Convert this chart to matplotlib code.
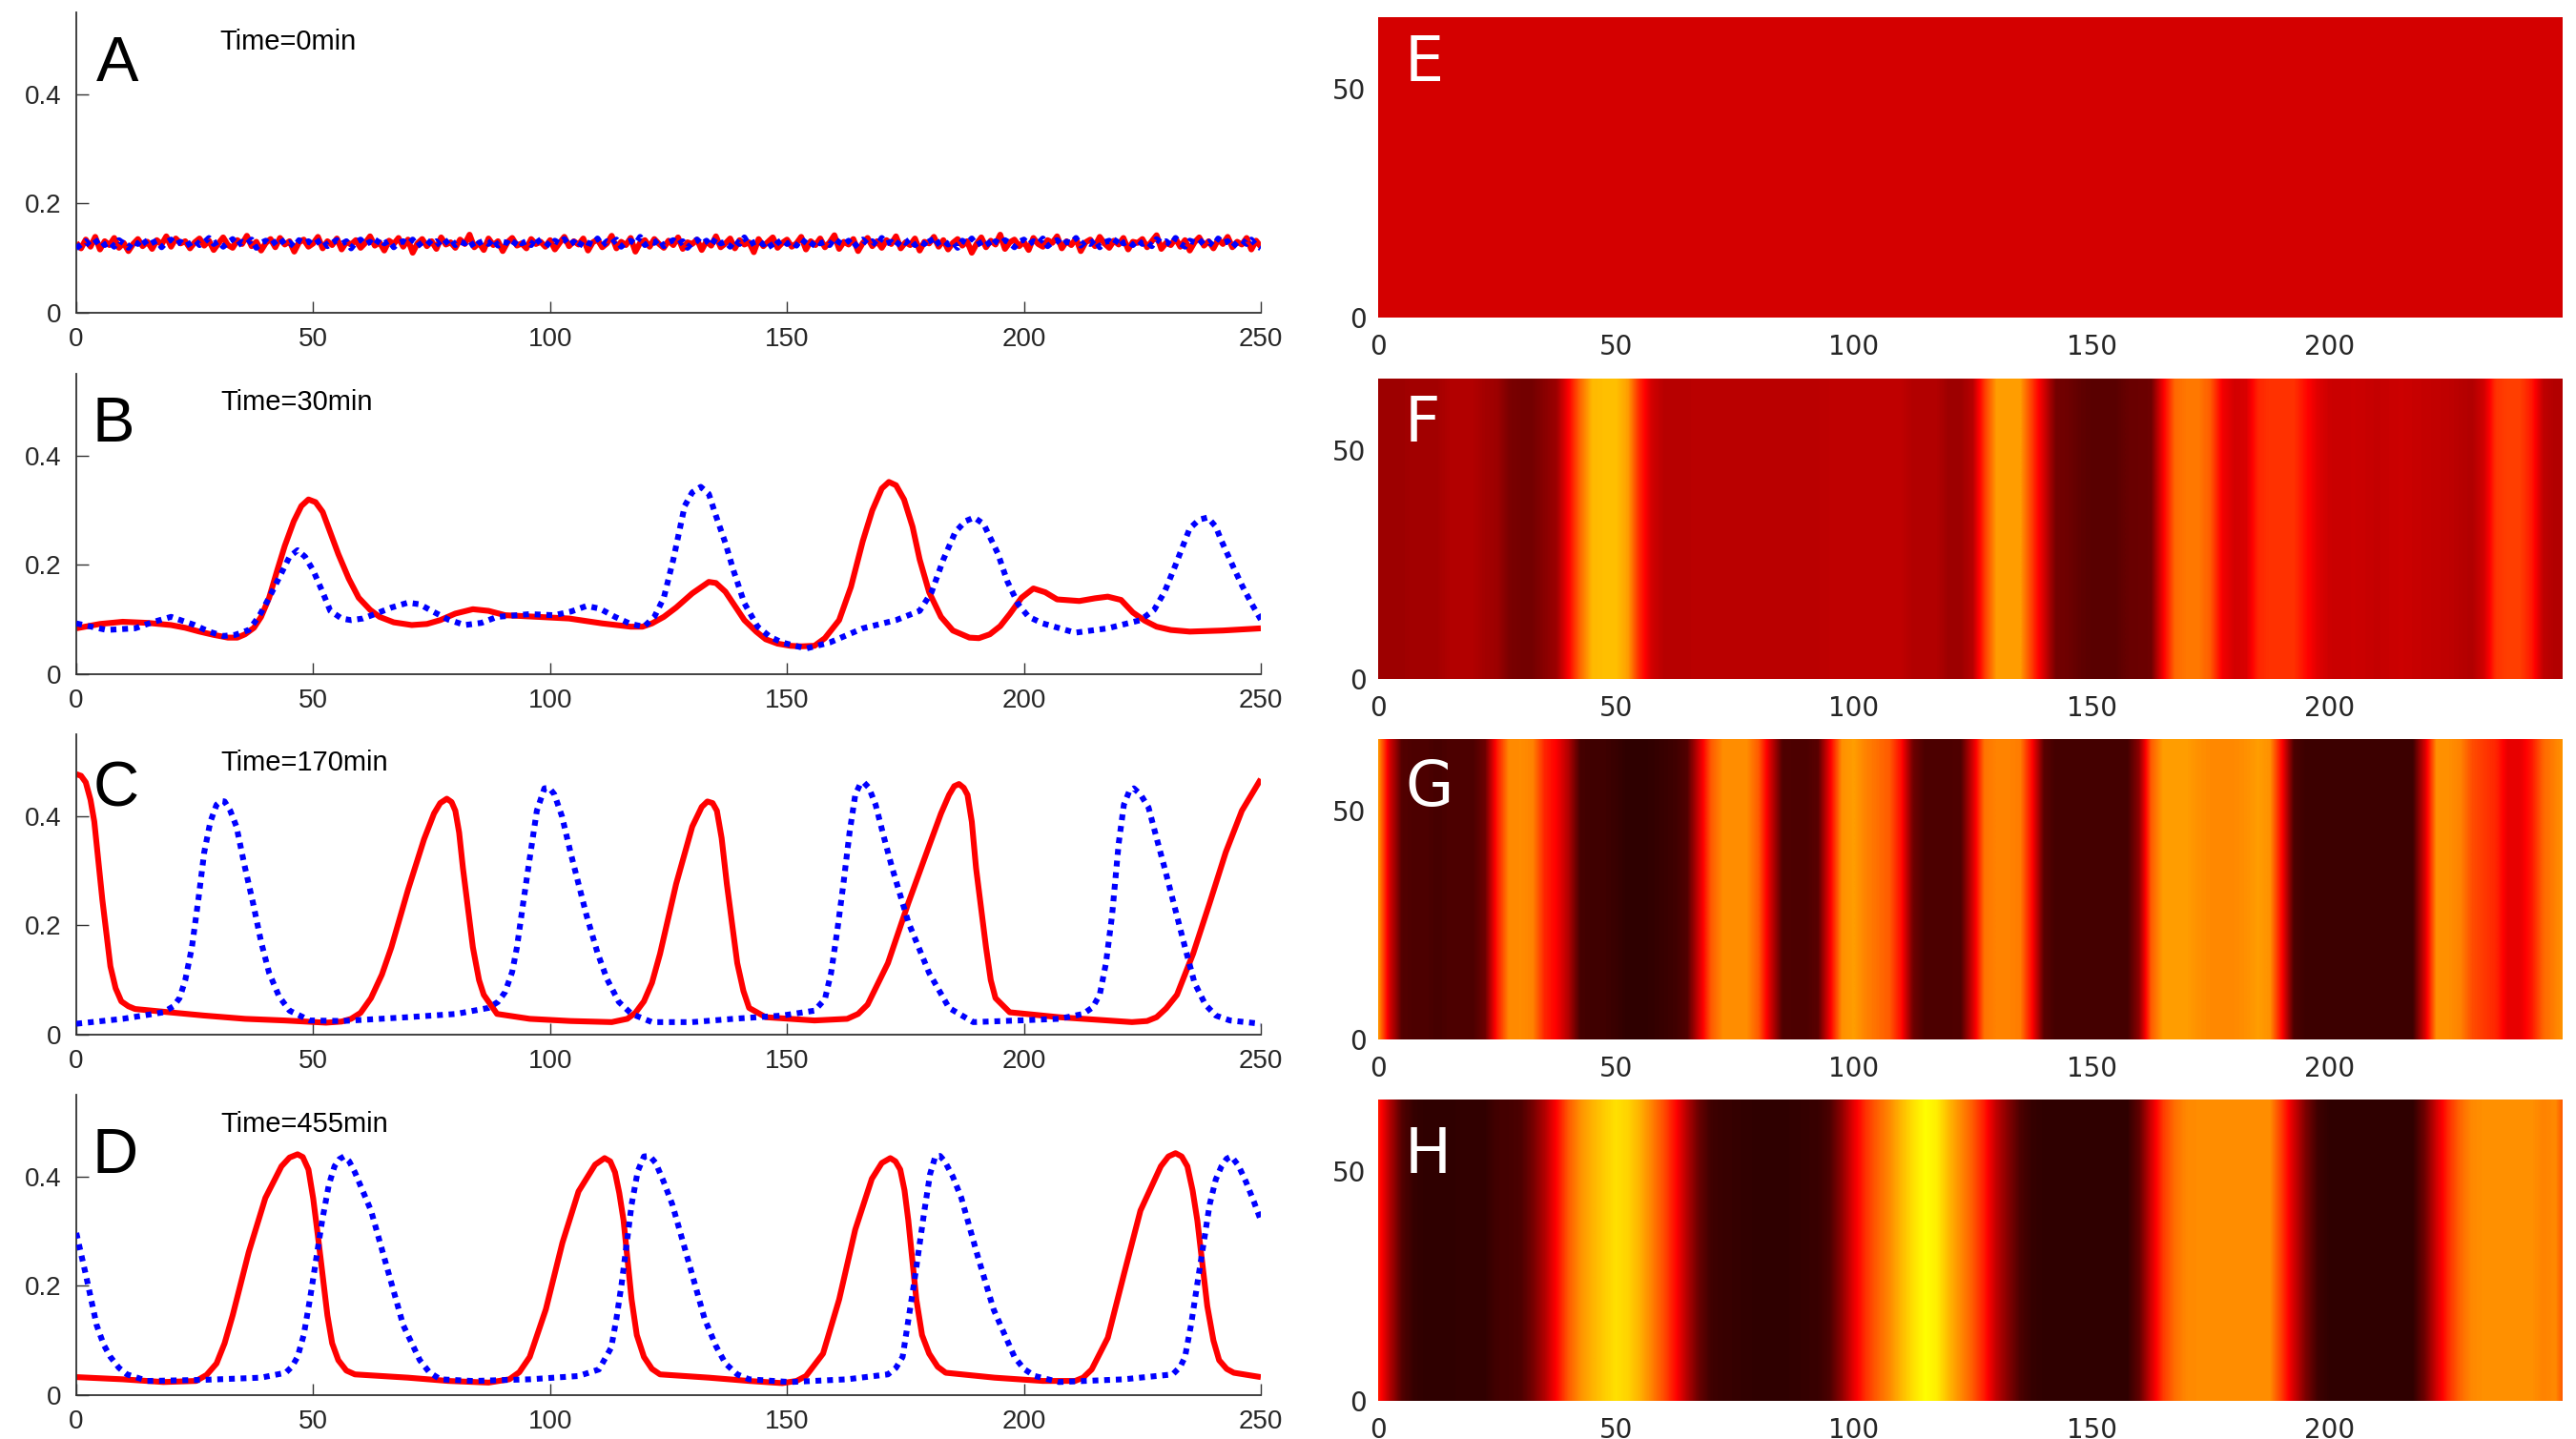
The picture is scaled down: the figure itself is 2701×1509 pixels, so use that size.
import numpy as np
import matplotlib
matplotlib.use("Agg")
import matplotlib.pyplot as plt

W, H, DPI = 2701, 1509, 100

# ---------------- data: line panels ----------------
A_x = list(range(0, 251))
A_red = [0.128, 0.118, 0.134, 0.121, 0.139, 0.116, 0.131, 0.124, 0.137, 0.119, 0.128, 0.113, 0.126, 0.135, 0.122, 0.130, 0.117, 0.133, 0.125, 0.140, 0.121, 0.136, 0.127, 0.131, 0.118,
         0.129, 0.136, 0.123, 0.132, 0.115, 0.127, 0.138, 0.124, 0.119, 0.133, 0.126, 0.141, 0.122, 0.130, 0.114, 0.128, 0.135, 0.120, 0.137, 0.125, 0.131, 0.112, 0.129, 0.134, 0.121,
         0.127, 0.139, 0.118, 0.131, 0.124, 0.136, 0.116, 0.130, 0.125, 0.133, 0.119, 0.128, 0.140, 0.123, 0.129, 0.114, 0.132, 0.126, 0.137, 0.121, 0.134, 0.110, 0.127, 0.135, 0.122,
         0.131, 0.117, 0.138, 0.125, 0.129, 0.119, 0.134, 0.126, 0.143, 0.120, 0.128, 0.115, 0.136, 0.124, 0.131, 0.113, 0.129, 0.137, 0.123, 0.127, 0.118, 0.135, 0.126, 0.130, 0.121,
         0.133, 0.116, 0.128, 0.139, 0.122, 0.131, 0.125, 0.136, 0.114, 0.129, 0.134, 0.120, 0.127, 0.141, 0.118, 0.130, 0.124, 0.137, 0.112, 0.128, 0.133, 0.121, 0.135, 0.126, 0.119,
         0.132, 0.124, 0.138, 0.117, 0.129, 0.126, 0.134, 0.115, 0.131, 0.123, 0.140, 0.120, 0.127, 0.136, 0.118, 0.133, 0.125, 0.129, 0.111, 0.135, 0.122, 0.130, 0.138, 0.119, 0.128,
         0.134, 0.121, 0.127, 0.139, 0.116, 0.131, 0.124, 0.136, 0.120, 0.129, 0.142, 0.117, 0.130, 0.125, 0.135, 0.113, 0.128, 0.137, 0.122, 0.131, 0.119, 0.133, 0.126, 0.140, 0.118,
         0.129, 0.124, 0.136, 0.114, 0.130, 0.127, 0.139, 0.121, 0.133, 0.116, 0.128, 0.135, 0.123, 0.131, 0.110, 0.126, 0.138, 0.120, 0.132, 0.125, 0.143, 0.117, 0.129, 0.134, 0.122,
         0.130, 0.115, 0.137, 0.126, 0.121, 0.133, 0.128, 0.140, 0.118, 0.131, 0.124, 0.136, 0.113, 0.129, 0.134, 0.122, 0.139, 0.127, 0.119, 0.132, 0.125, 0.137, 0.116, 0.130, 0.128,
         0.135, 0.120, 0.131, 0.142, 0.117, 0.128, 0.124, 0.136, 0.121, 0.133, 0.114, 0.129, 0.138, 0.123, 0.131, 0.118, 0.134, 0.126, 0.139, 0.120, 0.130, 0.125, 0.137, 0.116, 0.132, 0.121]
A_blue = [0.118, 0.125, 0.131, 0.122, 0.129, 0.135, 0.124, 0.130, 0.121, 0.133, 0.127, 0.119, 0.131, 0.126, 0.136, 0.123, 0.128, 0.132, 0.120, 0.129, 0.134, 0.125, 0.130, 0.122, 0.127,
          0.133, 0.124, 0.129, 0.137, 0.126, 0.131, 0.121, 0.128, 0.135, 0.123, 0.130, 0.126, 0.134, 0.119, 0.128, 0.132, 0.124, 0.130, 0.137, 0.125, 0.129, 0.121, 0.133, 0.127, 0.131,
          0.124, 0.130, 0.135, 0.122, 0.128, 0.133, 0.126, 0.131, 0.118, 0.129, 0.134, 0.125, 0.130, 0.123, 0.136, 0.127, 0.132, 0.120, 0.128, 0.131, 0.126, 0.134, 0.122, 0.129, 0.133,
          0.125, 0.131, 0.121, 0.129, 0.136, 0.124, 0.130, 0.127, 0.133, 0.119, 0.128, 0.132, 0.126, 0.135, 0.123, 0.130, 0.128, 0.121, 0.134, 0.127, 0.131, 0.124, 0.138, 0.126, 0.129,
          0.122, 0.132, 0.127, 0.135, 0.124, 0.130, 0.120, 0.133, 0.128, 0.125, 0.136, 0.123, 0.131, 0.127, 0.134, 0.121, 0.129, 0.132, 0.126, 0.139, 0.124, 0.130, 0.128, 0.135, 0.122,
          0.129, 0.133, 0.125, 0.131, 0.119, 0.128, 0.134, 0.126, 0.132, 0.123, 0.137, 0.127, 0.130, 0.121, 0.133, 0.126, 0.138, 0.124, 0.129, 0.132, 0.125, 0.131, 0.118, 0.128, 0.134,
          0.126, 0.131, 0.123, 0.135, 0.128, 0.121, 0.133, 0.127, 0.130, 0.124, 0.136, 0.129, 0.125, 0.132, 0.120, 0.128, 0.134, 0.126, 0.131, 0.123, 0.137, 0.127, 0.130, 0.122, 0.133,
          0.128, 0.135, 0.124, 0.131, 0.126, 0.138, 0.122, 0.129, 0.133, 0.125, 0.130, 0.119, 0.132, 0.127, 0.136, 0.124, 0.129, 0.134, 0.121, 0.131, 0.126, 0.133, 0.128, 0.120, 0.130,
          0.134, 0.125, 0.131, 0.127, 0.136, 0.122, 0.129, 0.133, 0.124, 0.130, 0.128, 0.137, 0.123, 0.131, 0.126, 0.134, 0.120, 0.129, 0.132, 0.125, 0.138, 0.127, 0.131, 0.124, 0.133,
          0.126, 0.130, 0.122, 0.135, 0.128, 0.131, 0.124, 0.137, 0.127, 0.121, 0.132, 0.129, 0.134, 0.125, 0.130, 0.123, 0.136, 0.128, 0.131, 0.120, 0.129, 0.133, 0.126, 0.134, 0.124, 0.118]

B_red_x = [0, 5, 9.8, 15, 20, 23, 26, 29, 32, 34, 35.6, 37.5, 39, 40.7, 42.4, 44, 45.9, 47.5, 49, 50.5, 52, 53.5,
           55.3, 57.5, 59.6, 62, 64, 67, 70.8, 74, 76.8, 80, 83.7, 87, 90.5, 97.4, 104, 111, 117, 119.5, 121.5,
           124, 126.6, 130, 133.5, 135, 137, 139, 141, 143.5, 145.5, 148, 150.7, 153, 155.8, 158, 161, 163.5,
           166, 168, 170, 171.5, 173, 174.7, 176.5, 178, 180, 182.5, 185, 188.5, 190.5, 192.8, 195, 197, 199.5,
           202, 204.5, 207, 211.7, 215, 217.7, 220.5, 223, 225.5, 228, 231, 235, 242, 250]
B_red = [0.084, 0.092, 0.096, 0.094, 0.090, 0.085, 0.078, 0.072, 0.067, 0.067, 0.073, 0.085, 0.105, 0.140, 0.190, 0.235, 0.280, 0.308, 0.320, 0.315, 0.297, 0.262,
         0.220, 0.175, 0.140, 0.118, 0.105, 0.095, 0.090, 0.092, 0.099, 0.111, 0.119, 0.116, 0.108, 0.105, 0.102, 0.093, 0.087, 0.087, 0.093,
         0.105, 0.122, 0.148, 0.169, 0.167, 0.151, 0.125, 0.099, 0.078, 0.064, 0.056, 0.052, 0.051, 0.052, 0.066, 0.099, 0.160,
         0.244, 0.300, 0.340, 0.352, 0.346, 0.320, 0.270, 0.210, 0.150, 0.105, 0.080, 0.067, 0.066, 0.073, 0.088, 0.110, 0.140,
         0.157, 0.150, 0.137, 0.134, 0.139, 0.142, 0.136, 0.113, 0.098, 0.087, 0.081, 0.078, 0.080, 0.084]
B_blue_x = [0, 6.4, 12.4, 16, 20, 25, 28, 31, 33.5, 36.4, 38.5, 40.7, 43, 45, 46.7, 48.3, 50, 52, 53.6, 56, 58, 60.5,
            63, 66.5, 70, 72.5, 75, 78.5, 82, 85.5, 88.8, 95.7, 100.9, 104.5, 107.7, 110.5, 113.7, 117, 119.8, 122,
            124, 126, 128.4, 130, 131.8, 133.5, 135, 137, 138.7, 141, 143.8, 146.5, 149, 154, 159, 166, 173, 178,
            180.5, 183, 185.5, 187.6, 189.5, 191.5, 194.5, 196.5, 198.8, 201, 204, 210.8, 217.7, 224.6, 227.5,
            229.7, 232, 235, 237, 238.8, 240.5, 241.7, 244, 246, 248, 250]
B_blue = [0.093, 0.081, 0.084, 0.095, 0.105, 0.090, 0.078, 0.070, 0.072, 0.081, 0.105, 0.140, 0.180, 0.215, 0.227, 0.215, 0.190, 0.150, 0.116, 0.102, 0.099, 0.102,
          0.110, 0.122, 0.131, 0.128, 0.116, 0.100, 0.090, 0.094, 0.105, 0.110, 0.108, 0.115, 0.125, 0.120, 0.105, 0.092, 0.087, 0.105,
          0.140, 0.210, 0.308, 0.333, 0.343, 0.330, 0.290, 0.240, 0.190, 0.130, 0.087, 0.068, 0.058, 0.047, 0.058, 0.084, 0.099, 0.116,
          0.150, 0.210, 0.260, 0.280, 0.287, 0.275, 0.221, 0.170, 0.128, 0.105, 0.093, 0.076, 0.084, 0.099, 0.118,
          0.151, 0.200, 0.267, 0.283, 0.287, 0.270, 0.244, 0.200, 0.163, 0.130, 0.100]

C_red_x = [0, 1, 2, 3, 3.8, 5.5, 7.2, 8.3, 9.5, 11, 12.4, 18.4, 27, 35.6, 44, 52.7, 56, 58, 60, 62.2, 64.5, 66.5, 70,
           73.4, 75.5, 76.8, 78.2, 79.2, 80, 80.8, 81.6, 83.7, 85, 86, 88.8, 95.7, 104.3, 113, 116.3, 118, 119.8,
           121.5, 123.2, 126.6, 130, 132, 133.2, 134.3, 135.2, 136.2, 137.3, 139.5, 140.8, 142, 145.5, 155.8,
           162.7, 165, 167, 171.3, 175.6, 180, 182.5, 184.2, 185.3, 186.3, 187.3, 188.1, 189, 189.9, 192, 193,
           194, 197, 207.4, 216, 222.8, 226, 228, 230, 232.3, 235.7, 239.2, 242.6, 246, 250]
C_red = [0.477, 0.474, 0.462, 0.430, 0.390, 0.247, 0.125, 0.085, 0.061, 0.052, 0.047, 0.042, 0.035, 0.029, 0.026, 0.022, 0.024, 0.029, 0.040, 0.067, 0.110, 0.160, 0.265,
         0.358, 0.405, 0.424, 0.432, 0.426, 0.410, 0.370, 0.305, 0.160, 0.100, 0.073, 0.038, 0.029, 0.025, 0.023, 0.029, 0.040, 0.061,
         0.095, 0.148, 0.276, 0.381, 0.417, 0.427, 0.424, 0.410, 0.360, 0.276, 0.131, 0.080, 0.049, 0.032, 0.026,
         0.029, 0.038, 0.055, 0.131, 0.241, 0.346, 0.405, 0.439, 0.455, 0.459, 0.452, 0.439, 0.390, 0.305, 0.160, 0.100,
         0.067, 0.041, 0.032, 0.027, 0.023, 0.025, 0.032, 0.048, 0.073, 0.148, 0.241, 0.334, 0.410, 0.468]
C_blue_x = [0, 9.8, 18.4, 20.5, 21.8, 23, 24.4, 25.8, 27, 28.3, 29.6, 30.5, 31.3, 32.5, 33.8, 35.5, 37.3, 39, 40.7,
            42.8, 45, 49.3, 56.2, 70, 80.2, 87, 89, 90.5, 92, 93, 94.3, 95.7, 97.2, 98.8, 99.8, 100.9, 102.5, 104.3,
            107.7, 110, 112, 114.5, 117.2, 121.5, 130, 138.7, 149, 155.8, 158, 159.3, 160.6, 161.9, 163.2, 164.4,
            165.4, 166.2, 167.3, 168.7, 170.5, 172.2, 175.6, 180, 184.2, 189.3, 198.8, 207.4, 212.5, 214.5, 216,
            217.3, 218.6, 220, 221.1, 222.2, 223.2, 224.6, 226.3, 228, 229.7, 234, 236, 238.3, 240.5, 243.5, 250]
C_blue = [0.020, 0.029, 0.041, 0.052, 0.067, 0.100, 0.160, 0.250, 0.334, 0.390, 0.421, 0.428, 0.427, 0.410, 0.381, 0.310, 0.241, 0.170, 0.113,
          0.070, 0.044, 0.026, 0.025, 0.032, 0.038, 0.049, 0.060, 0.078, 0.115, 0.160, 0.240, 0.323, 0.410, 0.451, 0.452, 0.440, 0.400, 0.334,
          0.218, 0.150, 0.102, 0.060, 0.038, 0.023, 0.023, 0.029, 0.035, 0.044, 0.065, 0.113, 0.190, 0.276, 0.370, 0.439,
          0.458, 0.462, 0.452, 0.421, 0.360, 0.305, 0.206, 0.113, 0.049, 0.023, 0.026, 0.029, 0.038, 0.050, 0.073,
          0.130, 0.218, 0.350, 0.421, 0.445, 0.451, 0.440, 0.416, 0.360, 0.305, 0.160, 0.095, 0.055, 0.035, 0.026, 0.020]

D_red_x = [0, 9.8, 18.4, 25.3, 27.5, 29.6, 31.3, 33, 36.4, 39.9, 43.3, 45, 46.7, 47.8, 49, 50, 51, 53, 54, 55.3, 57,
           58.8, 70, 78.5, 87, 91.4, 93.5, 95.7, 99.1, 102.6, 106, 109.5, 111.5, 112.7, 113.7, 114.6, 115.5, 117.2,
           118.3, 119.8, 121.5, 123.2, 133.5, 142, 149, 152, 154, 157.6, 161, 164.4, 167.9, 170, 171.8, 172.9,
           173.9, 174.8, 175.6, 177.3, 178.5, 180, 181.8, 183.5, 193.8, 204, 210.8, 212.5, 214.3, 217.7, 221.1,
           224.6, 228.9, 230.5, 232, 233.3, 234.5, 235.6, 236.6, 238.7, 240, 241.2, 242.8, 244.3, 250]
D_red = [0.033, 0.029, 0.024, 0.026, 0.037, 0.058, 0.095, 0.146, 0.262, 0.361, 0.419, 0.435, 0.441, 0.436, 0.413, 0.360, 0.291, 0.146, 0.095, 0.064, 0.045,
         0.038, 0.032, 0.026, 0.023, 0.029, 0.042, 0.070, 0.157, 0.279, 0.373, 0.422, 0.434, 0.428, 0.408, 0.370, 0.320, 0.175,
         0.110, 0.070, 0.048, 0.038, 0.032, 0.026, 0.022, 0.026, 0.035, 0.076, 0.175, 0.303, 0.396, 0.425, 0.434, 0.428,
         0.413, 0.375, 0.320, 0.175, 0.110, 0.076, 0.052, 0.041, 0.032, 0.026, 0.026, 0.032, 0.047, 0.105, 0.221,
         0.338, 0.419, 0.437, 0.443, 0.437, 0.419, 0.375, 0.320, 0.163, 0.100, 0.064, 0.048, 0.041, 0.033]
D_blue_x = [0, 2, 4.3, 5.8, 7.2, 9, 10.7, 15, 27, 39, 44.2, 45.5, 46.7, 48, 49.3, 51.9, 53.3, 54.5, 55.5, 56.5, 57.6,
            58.8, 62.2, 65.6, 69, 72.5, 74.5, 76.8, 83.7, 95.7, 106, 110.3, 112.9, 114, 115.1, 117.2, 118.5, 119.8,
            121, 122.3, 124, 125.8, 129.2, 132.6, 135, 137, 139.5, 142, 150.7, 162.7, 171.3, 173, 174.4, 176.8, 179,
            180.2, 181.3, 182.3, 183.3, 185, 186.8, 190.2, 193.6, 198, 200, 202.3, 207.4, 221.1, 231.4, 233, 234,
            235.3, 236.6, 239.2, 240.5, 241.7, 242.8, 243.8, 245.3, 246.9, 248.5, 250]
D_blue = [0.297, 0.221, 0.128, 0.092, 0.070, 0.050, 0.038, 0.026, 0.028, 0.032, 0.041, 0.052, 0.070, 0.110, 0.175, 0.320, 0.385, 0.419, 0.432, 0.437, 0.428,
          0.408, 0.338, 0.233, 0.128, 0.064, 0.042, 0.029, 0.026, 0.029, 0.035, 0.047, 0.087, 0.140, 0.204, 0.349, 0.410, 0.437,
          0.438, 0.425, 0.390, 0.349, 0.245, 0.140, 0.090, 0.058, 0.038, 0.029, 0.024, 0.029, 0.038, 0.050, 0.070, 0.204, 0.338,
          0.405, 0.437, 0.438, 0.428, 0.400, 0.361, 0.256, 0.157, 0.070, 0.048, 0.035, 0.024, 0.029, 0.038, 0.052, 0.070,
          0.130, 0.204, 0.349, 0.395, 0.419, 0.433, 0.437, 0.420, 0.390, 0.355, 0.320]

time_labels = ["Time=0min", "Time=30min", "Time=170min", "Time=455min"]
left_letters = ["A", "B", "C", "D"]
right_letters = ["E", "F", "G", "H"]
x_ticks_line = [0, 50, 100, 150, 200, 250]
y_ticks_line = [0, 0.2, 0.4]
y_tick_labels_line = ["0", "0.2", "0.4"]
x_ticks_heat = [0, 50, 100, 150, 200]
y_ticks_heat = [0, 50]

# ---------------- data: heat map column profiles (x = 0, 2.5, ..., 250) ----------------
heat_E = [0.303] * 101
heat_F = [0.22, 0.22, 0.22, 0.23, 0.23, 0.23, 0.25, 0.25, 0.25, 0.23, 0.22, 0.17, 0.16, 0.16, 0.19, 0.22,
          0.36, 0.52, 0.64, 0.65, 0.65, 0.60, 0.42, 0.30, 0.26, 0.26, 0.26,
          0.265, 0.265, 0.265, 0.265, 0.265, 0.265, 0.265, 0.265, 0.265, 0.265, 0.265,
          0.27, 0.27, 0.27, 0.27, 0.27, 0.27, 0.27,
          0.25, 0.25, 0.25, 0.22, 0.22, 0.26, 0.45, 0.60, 0.60, 0.60, 0.45, 0.30, 0.16, 0.15, 0.13, 0.12, 0.12,
          0.12, 0.14, 0.145, 0.15, 0.35, 0.52, 0.545, 0.545, 0.50, 0.35, 0.30, 0.31, 0.42, 0.44, 0.44, 0.44,
          0.38, 0.32, 0.29,
          0.285, 0.29, 0.285, 0.28, 0.285, 0.29, 0.285, 0.28, 0.275, 0.27,
          0.26, 0.25, 0.30, 0.44, 0.46, 0.46, 0.40, 0.27, 0.25, 0.25]
heat_G = [0.60, 0.30, 0.11, 0.10, 0.10, 0.09, 0.10, 0.10, 0.10, 0.15, 0.40, 0.57, 0.575, 0.56, 0.42, 0.36,
          0.25, 0.09, 0.08, 0.08, 0.07, 0.055, 0.055, 0.06, 0.07, 0.08, 0.11, 0.30, 0.50, 0.575, 0.575, 0.575,
          0.50, 0.30, 0.106, 0.10, 0.10, 0.12, 0.35, 0.58, 0.60, 0.56, 0.53, 0.50, 0.38, 0.15, 0.10, 0.10, 0.10,
          0.105, 0.30, 0.54, 0.56, 0.56, 0.55, 0.37, 0.12,
          0.086, 0.086, 0.086, 0.086, 0.086, 0.086, 0.086,
          0.20, 0.50, 0.60, 0.60, 0.60, 0.58, 0.57, 0.57, 0.57, 0.58, 0.60, 0.58, 0.37, 0.10,
          0.075, 0.075, 0.075, 0.075, 0.075, 0.075, 0.075, 0.075, 0.075, 0.075,
          0.30, 0.58, 0.58, 0.56, 0.48, 0.45, 0.42, 0.33, 0.33, 0.40, 0.52, 0.56, 0.60]
heat_H = [0.41, 0.25, 0.11, 0.065,
          0.057, 0.057, 0.057, 0.06, 0.06, 0.06,
          0.085, 0.09, 0.10, 0.16, 0.25, 0.37, 0.50, 0.58, 0.63, 0.67, 0.70, 0.68, 0.63, 0.56, 0.48, 0.38,
          0.25, 0.14, 0.08,
          0.07, 0.065, 0.06, 0.057, 0.057, 0.057, 0.06, 0.065, 0.07,
          0.10, 0.20, 0.33, 0.44, 0.51, 0.57, 0.64, 0.70, 0.745, 0.72, 0.64, 0.57, 0.50, 0.40, 0.27, 0.18,
          0.10, 0.065,
          0.057, 0.057, 0.057, 0.057, 0.057, 0.057, 0.057, 0.057,
          0.13, 0.30, 0.45, 0.53, 0.57,
          0.575, 0.575, 0.575, 0.575, 0.575, 0.575, 0.575,
          0.45, 0.30, 0.17, 0.08,
          0.057, 0.057, 0.057, 0.057, 0.057, 0.057, 0.057, 0.057,
          0.15, 0.30, 0.43, 0.52, 0.57,
          0.58, 0.58, 0.58, 0.58, 0.58,
          0.56, 0.57, 0.45]
heat_step = 2.5
heat_rows = 66

# ---------------- layout (pixels: left, top, right, bottom) ----------------
left_boxes = [(80, 13, 1322, 328), (80, 392, 1322, 707), (80, 770, 1322, 1085), (80, 1148, 1322, 1463)]
right_boxes = [(1445, 18, 2687, 333), (1445, 397, 2687, 712), (1445, 775, 2687, 1090), (1445, 1153, 2687, 1469)]
left_letter_pos = [(101, 85), (96, 463), (98, 845), (96, 1230)]
time_pos = [(230, 52), (231, 430), (231, 808), (231, 1187)]
right_letter_pos = [(1473, 85), (1473, 463), (1473, 845), (1473, 1230)]

TXT = "#262626"
fig = plt.figure(figsize=(W / DPI, H / DPI), dpi=DPI)
fig.patch.set_facecolor("white")


def px_axes(box):
    l, t, r, b = box
    return fig.add_axes([l / W, 1 - b / H, (r - l) / W, (b - t) / H])


def fx(px):
    return px / W


def fy(py):
    return 1 - py / H


line_data = [(A_x, A_red, A_x, A_blue), (B_red_x, B_red, B_blue_x, B_blue),
             (C_red_x, C_red, C_blue_x, C_blue), (D_red_x, D_red, D_blue_x, D_blue)]

for i, (rx, ry, bx, by) in enumerate(line_data):
    ax = px_axes(left_boxes[i])
    ax.plot(rx, ry, color="#ff0000", lw=4.4, solid_joinstyle="round", solid_capstyle="butt", zorder=2)
    ax.plot(bx, by, color="#0000ff", lw=4.4, linestyle=(0, (1.0, 1.0)), dash_capstyle="butt", zorder=3)
    ax.set_xlim(0, 250)
    ax.set_ylim(0, 0.55)
    ax.set_xticks(x_ticks_line)
    ax.set_yticks(y_ticks_line)
    ax.set_yticklabels(y_tick_labels_line)
    for s in ("top", "right"):
        ax.spines[s].set_visible(False)
    for s in ("left", "bottom"):
        ax.spines[s].set_color("#333333")
        ax.spines[s].set_linewidth(1.3)
    ax.tick_params(direction="in", length=9, width=1.0, color="#333333",
                   labelsize=20, labelcolor=TXT, pad=11)
    for lab in ax.get_xticklabels() + ax.get_yticklabels():
        lab.set_family("Liberation Sans")
    fig.text(fx(left_letter_pos[i][0]), fy(left_letter_pos[i][1]), left_letters[i],
             fontsize=48, family="Liberation Sans", color="black", va="baseline", ha="left")
    fig.text(fx(time_pos[i][0]), fy(time_pos[i][1]), time_labels[i],
             fontsize=21, family="Liberation Sans", color="black", va="baseline", ha="left")

heat_data = [heat_E, heat_F, heat_G, heat_H]
for i, prof in enumerate(heat_data):
    ax = px_axes(right_boxes[i])
    prof = np.asarray(prof, dtype=float)
    img = np.tile(prof, (heat_rows, 1))
    n = len(prof)
    ax.imshow(img, cmap="hot", vmin=0, vmax=1, aspect="auto", origin="lower",
              extent=[-heat_step / 2, (n - 1) * heat_step + heat_step / 2, 0, 65.6],
              interpolation="bilinear", interpolation_stage="data")
    ax.set_xlim(0, 249)
    ax.set_ylim(0, 65.6)
    ax.set_xticks(x_ticks_heat)
    ax.set_yticks(y_ticks_heat)
    for s in ax.spines.values():
        s.set_visible(False)
    ax.tick_params(length=0, labelsize=20, labelcolor=TXT)
    ax.tick_params(axis="x", pad=12)
    ax.tick_params(axis="y", pad=9)
    for lab in ax.get_xticklabels() + ax.get_yticklabels():
        lab.set_family("DejaVu Sans")
    fig.text(fx(right_letter_pos[i][0]), fy(right_letter_pos[i][1]), right_letters[i],
             fontsize=47, family="DejaVu Sans", color="white", va="baseline", ha="left")

fig.savefig("out.png", dpi=DPI)
